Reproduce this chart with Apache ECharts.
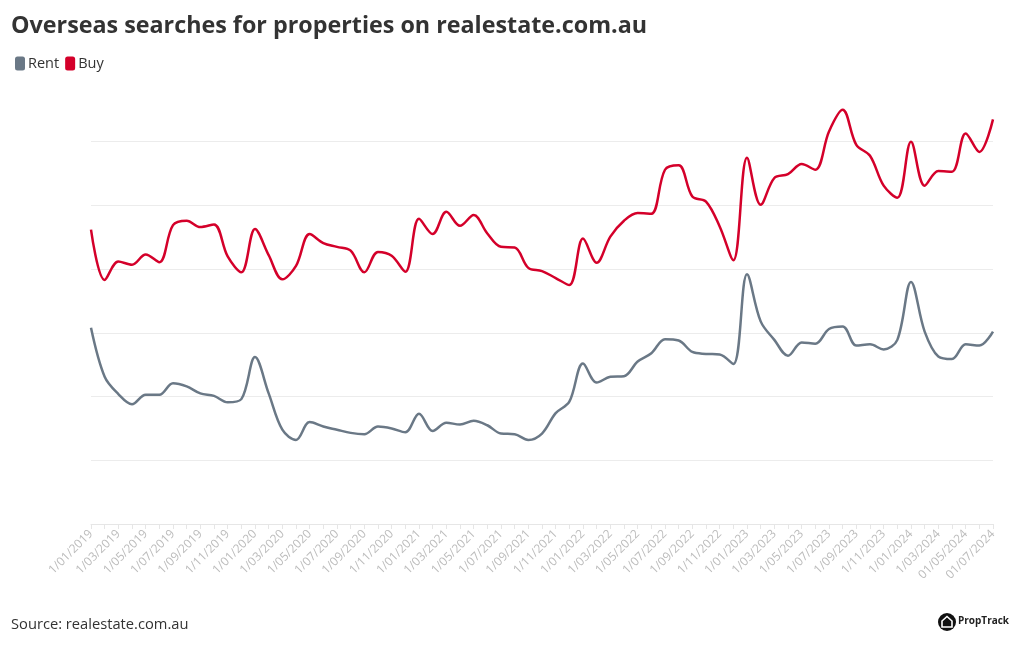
<!DOCTYPE html>
<html>
<head>
<meta charset="utf-8">
<script src="https://cdn.jsdelivr.net/npm/echarts@6/dist/echarts.min.js"></script>
<style>
html,body{margin:0;padding:0;background:#fff;}
#chart{width:1020px;height:650px;}
</style>
</head>
<body>
<div id="chart"></div>
<script>
const categories = [
  '1/01/2019','1/02/2019','1/03/2019','1/04/2019','1/05/2019','1/06/2019','1/07/2019','1/08/2019','1/09/2019','1/10/2019','1/11/2019','1/12/2019',
  '1/01/2020','1/02/2020','1/03/2020','1/04/2020','1/05/2020','1/06/2020','1/07/2020','1/08/2020','1/09/2020','1/10/2020','1/11/2020','1/12/2020',
  '1/01/2021','1/02/2021','1/03/2021','1/04/2021','1/05/2021','1/06/2021','1/07/2021','1/08/2021','1/09/2021','1/10/2021','1/11/2021','1/12/2021',
  '1/01/2022','1/02/2022','1/03/2022','1/04/2022','1/05/2022','1/06/2022','1/07/2022','1/08/2022','1/09/2022','1/10/2022','1/11/2022','1/12/2022',
  '1/01/2023','1/02/2023','1/03/2023','1/04/2023','1/05/2023','1/06/2023','1/07/2023','1/08/2023','1/09/2023','1/10/2023','1/11/2023','1/12/2023',
  '1/01/2024','1/02/2024','1/03/2024','1/04/2024','01/05/2024','01/06/2024','01/07/2024'
];
const rent = [
  30.8,23.1,20.4,18.8,20.3,20.3,22.1,21.6,20.5,20.1,19.1,19.6,
  26.2,20.5,14.8,13.2,16.0,15.3,14.8,14.3,14.1,15.3,15.0,14.4,
  17.3,14.6,15.9,15.6,16.2,15.5,14.2,14.1,13.2,14.2,17.4,19.2,
  25.2,22.2,23.1,23.2,25.5,26.8,29.0,28.8,27.0,26.7,26.6,25.1,
  39.2,31.8,28.9,26.4,28.5,28.3,30.6,31.0,28.0,28.2,27.4,28.9,
  38.0,30.2,26.3,25.9,28.2,28.0,30.2
];
const buy = [
  46.2,38.3,41.2,40.7,42.3,41.1,46.9,47.6,46.6,47.0,42.0,39.5,
  46.3,42.2,38.4,40.5,45.5,44.1,43.5,42.9,39.5,42.7,42.1,39.6,
  47.9,45.5,49.0,46.8,48.5,45.6,43.5,43.4,40.2,39.7,38.6,37.5,
  44.8,41.0,45.1,47.6,48.8,48.7,55.6,56.3,51.4,50.6,46.7,41.4,
  57.5,50.1,54.3,54.9,56.5,55.6,61.6,65.0,59.5,57.8,53.1,51.2,
  60.0,53.1,55.4,55.3,61.3,58.4,63.5
];
const seriesNames = ['Rent','Buy'];
const seriesColors = ['#6a7886','#d4002a'];

const chart = echarts.init(document.getElementById('chart'), null, {renderer:'canvas'});
const font = 'Open Sans, Noto Sans, sans-serif';
chart.setOption({
  animation:false,
  backgroundColor:'#fff',
  title:{
    text:'Overseas searches for properties on realestate.com.au',
    left:6, top:10,
    textStyle:{fontFamily:font, fontSize:23.3, fontWeight:'bold', color:'#333'}
  },
  legend:{
    left:10, top:51,
    icon:'roundRect',
    itemWidth:10, itemHeight:14, itemGap:6,
    textStyle:{fontFamily:font, fontSize:14.5, color:'#333', padding:[0,0,0,-2]},
    data:seriesNames
  },
  grid:{left:91, right:27, top:78, bottom:126, containLabel:false},
  xAxis:{
    type:'category',
    data:categories,
    boundaryGap:false,
    axisLine:{show:true, lineStyle:{color:'#e6e6e6', width:1}},
    axisTick:{show:true, interval:0, length:5, lineStyle:{color:'#e6e6e6'}},
    axisLabel:{
      interval:1, rotate:45, margin:8,
      fontFamily:font, fontSize:12, color:'#bcbcbc'
    }
  },
  yAxis:{
    type:'value', min:0, max:70, interval:10,
    axisLabel:{show:false},
    axisLine:{show:false}, axisTick:{show:false},
    splitLine:{show:true, showMaxLine:false, lineStyle:{color:'#ececec', width:1}}
  },
  series:[
    {name:seriesNames[0], type:'line', data:rent, smooth:0.35, symbol:'none',
     itemStyle:{color:seriesColors[0]}, lineStyle:{color:seriesColors[0], width:2.5}},
    {name:seriesNames[1], type:'line', data:buy, smooth:0.35, symbol:'none',
     itemStyle:{color:seriesColors[1]}, lineStyle:{color:seriesColors[1], width:2.5}}
  ],
  graphic:[
    {type:'text', left:11, top:617, style:{text:'Source: realestate.com.au', font:'14.7px '+font, fill:'#333'}},
    {type:'group', left:938, top:613, children:[
      {type:'circle', shape:{cx:9, cy:9, r:9}, style:{fill:'#111'}},
      {type:'polygon', shape:{points:[[9,3.5],[14,8],[14,14],[4,14],[4,8]]}, style:{fill:'none', stroke:'#fff', lineWidth:1.6}},
      {type:'text', x:20, y:3, style:{text:'PropTrack', font:'bold 10px '+font, fill:'#222'}}
    ]}
  ]
});
</script>
</body>
</html>
